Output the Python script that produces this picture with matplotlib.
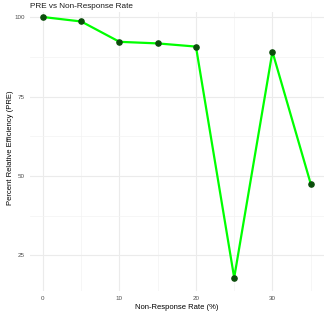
import matplotlib
matplotlib.use('Agg')
import matplotlib.pyplot as plt
import numpy as np

# 数据：非响应率与相对效率
nonresponse_rate = [0, 5, 10, 15, 20, 25, 30, 35]
pre_values = [100.0, 98.6, 92.2, 91.7, 90.7, 18.0, 89.1, 47.6]

plt.rcParams['font.family'] = ['Liberation Sans', 'DejaVu Sans']

fig = plt.figure(figsize=(3.27, 3.14), dpi=100)
ax = fig.add_axes([0.0905, 0.073, 0.9005, 0.89])

ax.plot(nonresponse_rate, pre_values, color='#00FF00', linewidth=1.6, zorder=3)
ax.scatter(nonresponse_rate, pre_values, color='#0B4D0B', s=14, zorder=4)

ax.set_xlim(-1.75, 36.75)
ax.set_ylim(13.8, 101.7)
ax.set_xticks([0, 10, 20, 30])
ax.set_xticks([5, 15, 25, 35], minor=True)
ax.set_yticks([25, 50, 75, 100])
ax.set_yticks([37.5, 62.5, 87.5], minor=True)

ax.grid(which='major', color='#EBEBEB', linewidth=0.8)
ax.grid(which='minor', color='#F3F3F3', linewidth=0.5)
ax.set_axisbelow(True)
for s in ax.spines.values():
    s.set_visible(False)
ax.tick_params(which='both', length=0, labelsize=4.5, labelcolor='#4D4D4D', pad=3.5)

ax.set_xlabel('Non-Response Rate (%)', fontsize=5.5, labelpad=2)
# y轴标签直接放在图上，位置与参考图一致
fig.text(10.5 / 327, 0.53, 'Percent Relative Efficiency (PRE)', fontsize=5.5,
         rotation=90, ha='center', va='center')
fig.text(0.092, 0.978, 'PRE vs Non-Response Rate', fontsize=5.9, ha='left', va='center', color='#1A1A1A')

plt.savefig('out.png', dpi=100)
